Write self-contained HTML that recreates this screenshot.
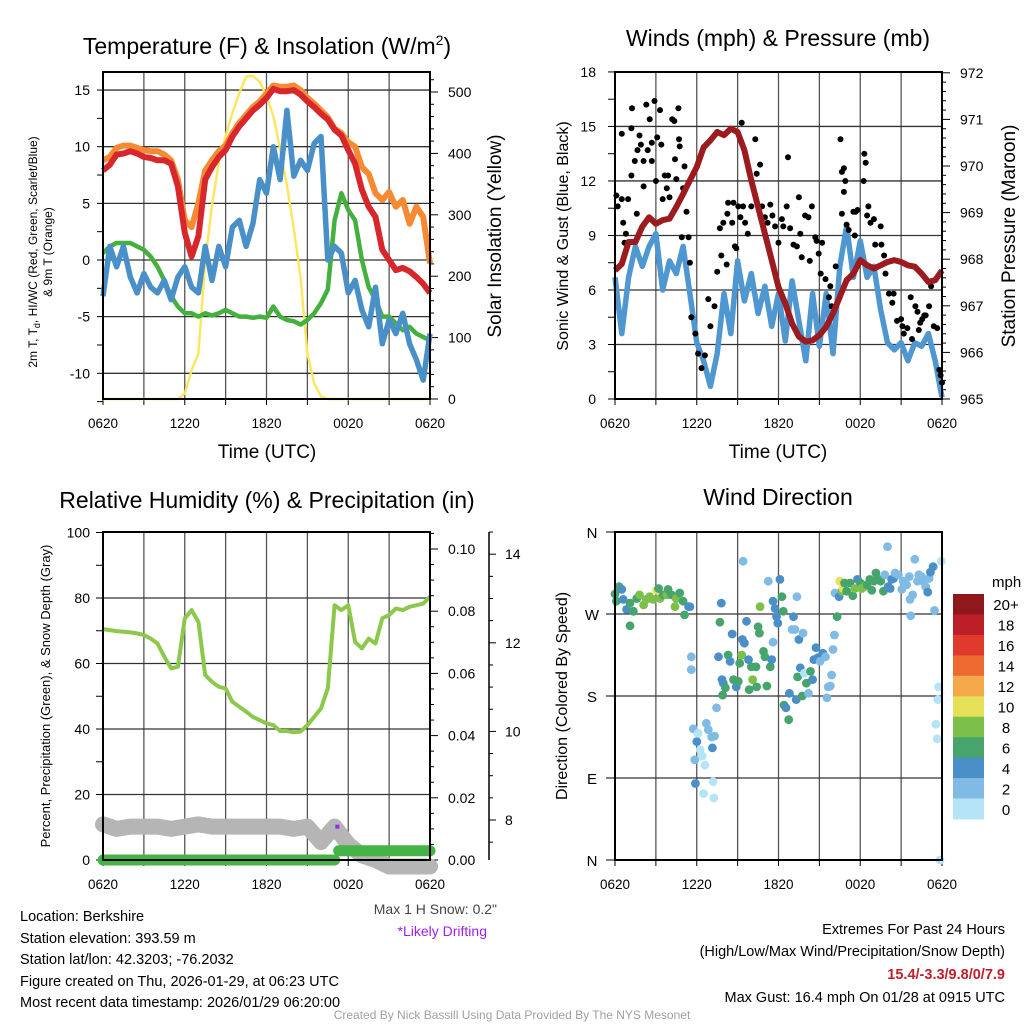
<!DOCTYPE html>
<html><head><meta charset="utf-8"><style>
html,body{margin:0;padding:0;background:#fff;}
svg{display:block;font-family:"Liberation Sans",Arial,sans-serif;}
</style></head><body>
<svg id="fig" width="1024" height="1024" viewBox="0 0 1024 1024" xmlns="http://www.w3.org/2000/svg">
<rect x="0" y="0" width="1024" height="1024" fill="#fff"/>
<text x="267" y="54" font-size="23" text-anchor="middle">Temperature (F) &amp; Insolation (W/m<tspan dy="-9" font-size="14">2</tspan><tspan dy="9">)</tspan></text>
<text x="778" y="46" font-size="23" text-anchor="middle">Winds (mph) &amp; Pressure (mb)</text>
<text x="267" y="508" font-size="23" text-anchor="middle">Relative Humidity (%) &amp; Precipitation (in)</text>
<text x="778" y="505" font-size="23" text-anchor="middle">Wind Direction</text>

<text transform="translate(37,252) rotate(-90)" font-size="12" text-anchor="middle">2m T, T<tspan dy="3" font-size="9">d</tspan><tspan dy="-3">, HI/WC (Red, Green, Scarlet/Blue)</tspan></text>
<text transform="translate(52,252) rotate(-90)" font-size="12" text-anchor="middle">&amp; 9m T (Orange)</text>
<text transform="translate(501,236) rotate(-90)" font-size="19" text-anchor="middle">Solar Insolation (Yellow)</text>
<text x="267" y="458" font-size="19" text-anchor="middle">Time (UTC)</text>
<text transform="translate(568,236) rotate(-90)" font-size="16" text-anchor="middle">Sonic Wind &amp; Gust (Blue, Black)</text>
<text transform="translate(1015,236) rotate(-90)" font-size="19" text-anchor="middle">Station Pressure (Maroon)</text>
<text x="778" y="458" font-size="19" text-anchor="middle">Time (UTC)</text>
<text transform="translate(50,696) rotate(-90)" font-size="13" text-anchor="middle">Percent, Precipitation (Green), &amp; Snow Depth (Gray)</text>
<text transform="translate(567,696) rotate(-90)" font-size="16" text-anchor="middle">Direction (Colored By Speed)</text>

<g id="plots"></g>

<text x="497" y="914" font-size="14" fill="#444" text-anchor="end">Max 1 H Snow: 0.2"</text>
<text x="487" y="936" font-size="14" fill="#a020f0" text-anchor="end">*Likely Drifting</text>
<g font-size="14.5">
<text x="20" y="921">Location: Berkshire</text>
<text x="20" y="943">Station elevation: 393.59 m</text>
<text x="20" y="964">Station lat/lon: 42.3203; -76.2032</text>
<text x="20" y="986">Figure created on Thu, 2026-01-29, at 06:23 UTC</text>
<text x="20" y="1007">Most recent data timestamp: 2026/01/29 06:20:00</text>
</g>
<g font-size="14.5" text-anchor="end">
<text x="1005" y="934">Extremes For Past 24 Hours</text>
<text x="1005" y="956">(High/Low/Max Wind/Precipitation/Snow Depth)</text>
<text x="1005" y="979" fill="#c0202a" font-weight="bold">15.4/-3.3/9.8/0/7.9</text>
<text x="1005" y="1002">Max Gust: 16.4 mph On 01/28 at 0915 UTC</text>
</g>
<text x="512" y="1019" font-size="12" fill="#a0a0a0" text-anchor="middle">Created By Nick Bassill Using Data Provided By The NYS Mesonet</text>
</svg>
<script>
// ---- data (half-hourly, 0620 UTC to 0620 UTC) ----
const xTickLabels = ["0620","1220","1820","0020","0620"];
const tempRed = [7.9,8.4,9.3,9.4,9.6,9.4,9.1,9.0,8.8,8.8,8.5,6.5,2.4,0.3,2.1,7.1,8.2,9.1,9.7,10.9,11.8,12.5,13.2,13.7,14.3,15.1,14.9,14.9,15.0,14.6,14.0,13.5,12.9,12.4,11.5,11.0,9.7,8.5,6.2,4.7,3.8,0.9,0.0,-0.9,-0.7,-1.0,-1.5,-2.1,-2.9];
const tempOrange = [8.8,9.1,9.9,10.1,10.1,9.9,9.7,9.6,9.6,9.3,8.8,7.1,3.5,2.9,5.0,7.9,8.8,9.6,10.1,11.2,12.1,12.8,13.5,14.0,14.7,15.4,15.3,15.3,15.4,15.0,14.3,13.8,13.2,12.6,11.6,11.2,10.4,10.0,8.2,7.6,5.9,5.3,6.0,4.7,5.3,3.2,4.7,3.8,-0.3];
const tempGreen = [0.6,1.2,1.5,1.5,1.5,1.2,0.9,0.3,-0.6,-1.8,-3.2,-4.1,-4.7,-4.7,-5.0,-4.7,-4.9,-4.7,-4.4,-4.7,-5.0,-5.0,-5.1,-5.0,-5.1,-4.1,-5.0,-5.3,-5.4,-5.7,-5.3,-4.7,-3.8,-2.6,3.5,5.9,4.4,3.5,0.0,-2.4,-3.5,-5.0,-5.0,-5.6,-6.2,-5.9,-6.5,-6.8,-7.1];
const tempBlue = [-3.2,1.2,-0.6,1.2,-1.5,-2.9,-1.2,-2.4,-2.9,-1.8,-3.5,-1.5,-0.6,-2.4,-2.9,1.2,-1.8,1.2,-0.6,2.9,3.5,1.2,3.2,7.1,5.9,10.0,7.1,13.2,7.4,8.8,7.9,10.3,10.9,0.0,1.2,0.6,-2.9,-1.8,-4.4,-5.9,-2.4,-7.4,-5.3,-6.5,-4.7,-7.4,-8.8,-10.6,-6.5];
const solar = [0,0,0,0,0,0,0,0,0,0,0,0,9,47,74,224,316,385,428,466,498,525,526,517,493,461,407,348,278,197,74,25,4,0,0,0,0,0,0,0,0,0,0,0,0,0,0,0,0];
const pressure = [967.76,967.9,968.37,968.37,968.7,968.9,968.76,968.84,968.87,969.12,969.4,969.69,969.98,970.4,970.55,970.73,970.66,970.8,970.73,970.34,969.69,969.12,968.55,967.98,967.4,967.05,966.62,966.34,966.23,966.26,966.37,966.55,966.84,967.19,967.55,967.69,967.98,967.87,967.8,967.87,967.94,967.98,967.94,967.87,967.84,967.69,967.51,967.55,967.76];
const windSpeed = [6.7,3.6,6.7,8.4,7.3,8.4,9.1,6.0,7.6,6.9,8.4,5.8,3.1,2.1,0.7,2.5,5.8,3.6,7.6,5.4,6.9,4.7,6.2,4.0,5.8,3.2,6.5,4.3,2.1,5.8,2.9,5.8,2.5,7.3,9.5,6.7,8.7,6.7,7.3,4.9,3.1,2.7,3.1,2.1,3.1,2.9,3.6,2.1,0.1];
const gustHour = [0.1,0.2,0.5,0.6,0.5,0.8,0.7,0.96,1.2,1.25,1.2,1.45,1.6,1.65,1.8,1.9,2.1,2.1,2.3,2.4,2.55,2.7,2.7,2.9,3.0,3.1,3.3,3.4,3.5,3.65,3.8,3.9,4.0,4.2,4.35,4.4,4.5,4.65,4.7,4.75,4.9,5.0,5.1,5.25,5.4,5.5,5.6,5.9,6.1,6.35,6.6,6.85,7.0,7.3,7.5,7.7,7.8,7.95,8.2,8.25,8.3,8.6,8.8,8.7,8.9,9.05,9.2,9.3,9.4,9.55,9.75,10.0,10.3,10.4,10.65,10.8,11.0,11.2,11.4,11.55,11.75,12.0,12.25,12.35,12.6,12.7,12.85,13.1,13.35,13.5,13.6,13.7,13.95,14.2,14.3,14.45,14.7,14.8,14.95,15.1,15.2,15.45,15.7,15.8,15.9,16.2,16.55,16.65,16.8,16.9,16.8,16.65,17.0,17.15,17.5,17.65,17.8,17.6,18.25,18.3,18.4,18.5,18.6,18.75,19.0,19.1,19.5,19.55,19.75,19.85,20.1,20.35,20.45,20.7,21.0,21.1,21.2,21.45,21.7,21.8,22.05,22.2,22.3,22.4,22.55,22.7,22.8,23.05,23.2,23.4,23.65,23.8,23.9,24.0];
const gustSpeed = [11.2,10.6,11.0,9.7,14.6,9.1,8.6,11.0,12.3,16.0,14.9,13.1,10.2,13.7,14.5,14.0,11.7,13.1,16.2,13.7,15.4,14.1,13.1,16.4,12.0,14.4,15.9,14.0,11.0,12.3,11.6,12.3,11.1,15.4,15.3,13.2,12.1,16.0,14.3,13.9,8.9,11.6,12.8,10.3,8.9,7.5,4.5,3.6,2.5,1.7,2.4,5.5,4.0,5.1,7.0,9.4,7.9,9.7,7.4,10.2,10.8,9.7,8.4,10.8,8.3,10.6,10.0,15.2,10.6,9.7,9.1,10.6,14.3,12.4,12.9,10.6,10.0,9.7,10.7,10.1,9.5,8.6,9.9,9.5,10.6,13.3,9.4,8.5,8.4,11.1,9.1,7.8,10.1,10.0,7.6,10.6,8.9,8.7,8.0,6.9,8.6,6.6,5.6,6.2,5.1,7.3,14.3,12.5,12.7,12.0,11.4,10.2,9.6,9.3,10.3,10.3,10.4,9.0,12.0,13.5,13.0,10.1,10.6,9.7,9.9,8.5,9.5,8.5,7.9,6.9,5.8,5.3,5.8,4.3,4.4,4.0,3.6,3.9,5.6,3.3,5.1,4.8,3.8,4.2,4.4,4.6,4.6,5.1,6.2,4.0,3.9,1.6,1.3,0.9];
const humidity = [70.5,70.2,69.9,69.7,69.5,69.2,68.7,67.6,66.1,62.1,58.5,59.0,73.8,76.3,72.7,56.5,54.4,52.9,52.4,48.3,46.8,45.3,43.7,42.7,41.7,41.2,39.4,39.4,39.0,39.2,41.2,43.7,46.3,52.4,77.8,76.3,77.8,66.6,64.6,67.6,66.1,73.8,74.8,76.8,76.3,77.3,77.8,78.3,80.4];
const snowDepth = [7.9,7.8,7.85,7.85,7.85,7.8,7.85,7.9,7.85,7.85,7.85,7.85,7.85,7.85,7.8,7.85,7.5,7.85,7.45,7.2,7.1,6.95,6.95,6.95,6.95];
const precip = [0,0,0,0,0,0,0,0,0,0,0,0,0,0,0,0,0,0,0.003,0.003,0.003,0.003,0.003,0.003,0.003];
const driftHour = [17.2];
const driftDepth = [7.85];
const dirHour = [0.0,0.1,0.3,0.5,0.6,0.85,1.1,1.1,1.35,1.6,1.8,2.1,2.3,2.55,2.8,3.05,3.2,3.3,3.55,3.8,3.9,4.15,4.4,4.5,4.75,5.0,5.1,5.4,5.5,5.6,5.6,5.75,6.0,6.1,6.25,6.4,5.85,6.6,6.7,6.85,7.1,7.3,7.15,5.9,6.5,7.2,7.25,7.45,7.7,7.8,7.6,7.85,7.95,7.9,8.1,8.3,8.45,8.6,8.7,8.9,9.05,9.15,9.3,9.4,9.35,9.5,9.65,9.8,9.85,10.0,10.1,10.35,10.4,10.5,10.6,10.65,10.9,11.0,11.15,11.25,11.4,11.5,11.6,11.6,11.75,11.85,11.95,12.1,12.25,12.35,12.4,12.55,12.75,12.8,13.0,13.1,13.2,13.35,13.5,13.3,13.4,13.6,13.75,13.8,13.9,14.05,14.2,14.35,14.5,14.6,14.75,14.9,15.05,15.25,15.45,15.55,15.65,15.8,15.9,16.0,16.1,16.15,16.3,16.45,16.5,16.65,16.75,16.85,17.0,17.25,17.45,17.6,17.8,18.0,18.1,18.3,18.5,18.7,18.85,19.0,19.15,19.35,19.5,19.7,19.8,20.0,20.05,20.2,20.3,20.45,20.55,20.8,21.05,21.15,21.4,21.6,21.65,21.7,21.85,22.0,22.2,22.3,22.5,22.6,22.8,22.95,23.05,23.15,23.35,23.45,23.75,23.7,23.55,23.65,23.95,23.85];
const dirDeg = [292,284,300,297,286,275,282,257,273,287,291,280,286,289,286,296,298,287,291,291,297,291,278,287,293,284,269,278,278,223,209,144,130,139,121,114,110,104,150,143,135,136,123,84,73,86,68,167,261,282,223,198,194,181,189,225,218,248,198,190,196,216,225,328,242,238,262,220,187,212,198,212,190,256,249,278,229,223,191,306,212,220,239,284,276,267,260,308,289,273,170,167,154,183,253,267,253,289,242,176,201,211,180,249,205,194,183,207,198,220,233,222,218,227,223,178,190,191,203,231,247,293,267,289,306,295,298,304,295,304,290,298,308,304,298,300,302,308,296,306,315,308,306,295,313,344,300,298,308,309,315,313,297,306,302,311,286,268,291,330,306,313,311,306,300,294,309,316,322,274,190,176,149,133,328,0];
const dirSpeed = [7,7,7,5,5,5,7,7,7,7,9,9,9,9,9,11,7,9,7,9,7,7,9,9,7,7,7,5,5,3,3,3,5,1,1,1,3,1,3,3,3,3,5,5,1,1,1,3,7,5,5,5,5,7,7,7,5,5,7,5,7,7,9,3,5,5,5,5,7,7,9,7,7,7,7,9,7,7,7,3,7,5,3,5,5,5,5,5,7,7,7,5,7,5,3,5,3,3,5,5,7,5,7,3,1,7,3,7,5,5,5,5,3,5,3,3,3,3,3,3,3,3,7,5,11,9,11,7,7,7,7,9,5,7,9,9,7,7,7,7,7,7,7,7,3,3,5,5,5,5,3,3,3,3,3,3,3,3,3,3,3,3,3,3,3,5,3,5,5,3,1,1,1,1,1,1,1];
const speedBins = [0,2,4,6,8,10,12,14,16,18,20];
const speedBinLabels = ["0","2","4","6","8","10","12","14","16","18","20+"];
const speedColors = ["#b5e4f7","#7fbbe4","#4a8fc7","#47a46c","#7cc04a","#e6df58","#f5a84a","#ef6a30","#df3a2b","#bd1f28","#8e181b"];

// ---- scales ----
const NS="http://www.w3.org/2000/svg";
const root=document.getElementById('plots');
function mk(tag,attrs,parent){const e=document.createElementNS(NS,tag);for(const k in attrs)e.setAttribute(k,attrs[k]);(parent||root).appendChild(e);return e;}
const xA=h=>103+h*(327/24);
const xB=h=>615+h*(327/24);
const yTemp=v=>260-v*11.33;
const ySolar=w=>399-w*0.614;
const yWind=v=>399-v*18.17;
const yPres=p=>399-(p-965)*46.6;
const yRH=v=>860-v*3.275;
const yPrecip=v=>860-v*3110;
const ySnow=v=>820-(v-8)*44.3;
const yDir=d=>860-d*(328/360);
const half=i=>i*0.5;

function pathFrom(arr,xf,tf,yf){return arr.map((v,i)=>(i?'L':'M')+xf(tf(i)).toFixed(1)+','+yf(v).toFixed(1)).join(' ');}
function txt(x,y,s,size,anchor,name){const t=mk('text',{x:x,y:y,'font-size':size,'text-anchor':anchor||'middle'});t.textContent=s;return t;}
function line(x1,y1,x2,y2,stroke,w,name){const l=mk('line',{x1:x1,y1:y1,x2:x2,y2:y2,stroke:stroke,'stroke-width':w});return l;}

function frame(x0,y0,x1,y1,hGrid,name){
  for(let h=3;h<24;h+=3){const x=x0+h*(x1-x0)/24;line(x,y0,x,y1,'#555',1.3,name+'-vgrid');}
  hGrid.forEach(y=>line(x0,y,x1,y,'#333',1.3,name+'-hgrid'));
  for(let h=0;h<=24;h+=3){const x=x0+h*(x1-x0)/24;line(x,y1,x,y1+6,'#000',1,name+'-xtick');}
  xTickLabels.forEach((s,i)=>txt(x0+i*6*(x1-x0)/24,y1+29,s,13.5,'middle',name+'-xtick-label'));
}
function box(x0,y0,x1,y1,name){const r=mk('rect',{x:x0,y:y0,width:x1-x0,height:y1-y0,fill:'none',stroke:'#000','stroke-width':2});}

// ===== Panel 1: temperature =====
(function(){
  const hg=[];for(let v=-10;v<=15;v+=5)hg.push(yTemp(v));
  frame(103,72,430,399,hg,'temp');
  for(let v=-12.5;v<=15;v+=2.5){line(97,yTemp(v),103,yTemp(v),'#000',1,'temp-ytick');}
  for(let v=-10;v<=15;v+=5)txt(90,yTemp(v)+5,String(v),14,'end','temp-ytick-label');
  for(let w=0;w<=520;w+=20){line(430,ySolar(w),w%100===0?438:434,ySolar(w),'#000',1,'solar-ytick');}
  for(let w=0;w<=500;w+=100)txt(448,ySolar(w)+5,String(w),14,'start','solar-ytick-label');
  const s=mk('path',{d:pathFrom(solar,xA,half,ySolar),fill:'none',stroke:'#fde65a','stroke-width':2.4,'stroke-linejoin':'round'});
  
  const o=mk('path',{d:pathFrom(tempOrange,xA,half,yTemp),fill:'none',stroke:'#f58a33','stroke-width':6,'stroke-linejoin':'round'});
  
  const r=mk('path',{d:pathFrom(tempRed,xA,half,yTemp),fill:'none',stroke:'#d7262c','stroke-width':6,'stroke-linejoin':'round'});
  
  const gr=mk('path',{d:pathFrom(tempGreen,xA,half,yTemp),fill:'none',stroke:'#44b03e','stroke-width':4.5,'stroke-linejoin':'round'});
  
  const b=mk('path',{d:pathFrom(tempBlue,xA,half,yTemp),fill:'none',stroke:'#4a90c8','stroke-width':5.5,'stroke-linejoin':'round'});
  
  box(103,72,430,399,'temp-plot-frame');
})();

// ===== Panel 2: winds =====
(function(){
  const hg=[];for(let v=3;v<=15;v+=3)hg.push(yWind(v));
  frame(615,72,942,399,hg,'wind');
  for(let v=0;v<=18;v+=1.5){line(608,yWind(v),615,yWind(v),'#000',1,'wind-ytick');}
  for(let v=0;v<=18;v+=3)txt(596,yWind(v)+5,String(v),14,'end','wind-ytick-label');
  for(let p=965;p<=972.001;p+=0.2){const maj=Math.abs(p-Math.round(p))<0.01;line(942,yPres(p),maj?950:946,yPres(p),'#000',1,'pressure-ytick');}
  for(let p=965;p<=972;p++)txt(960,yPres(p)+5,String(p),14,'start','pressure-ytick-label');
  const b=mk('path',{d:pathFrom(windSpeed,xB,half,yWind),fill:'none',stroke:'#4f97d1','stroke-width':5.5,'stroke-linejoin':'round'});
  
  gustHour.forEach((h,i)=>{const c=mk('circle',{cx:xB(h).toFixed(1),cy:yWind(gustSpeed[i]).toFixed(1),r:3,fill:'#000'});
    
    });
  const p=mk('path',{d:pathFrom(pressure,xB,half,yPres),fill:'none',stroke:'#9b1b1e','stroke-width':6,'stroke-linejoin':'round'});
  
  box(615,72,942,399,'wind-plot-frame');
})();

// ===== Panel 3: humidity/precip/snow =====
(function(){
  const hg=[];for(let v=20;v<=80;v+=20)hg.push(yRH(v));
  frame(103,532,430,860,hg,'rh');
  for(let v=0;v<=100;v+=10){line(96,yRH(v),103,yRH(v),'#000',1,'rh-ytick');}
  for(let v=0;v<=100;v+=20)txt(90,yRH(v)+5,String(v),14,'end','rh-ytick-label');
  for(let v=0;v<=0.1051;v+=0.005){const maj=Math.round(v*1000)%20===0;line(430,yPrecip(v),maj?438:434,yPrecip(v),'#000',1,'precip-ytick');}
  for(let k=0;k<=5;k++)txt(448,yPrecip(k*0.02)+5,(k*0.02).toFixed(2),14,'start','precip-ytick-label');
  line(489,532,489,860,'#000',1.5,'snow-axis-line');
  for(let v=7.5;v<=14.5;v+=0.5){const maj=v%2===0;line(489,ySnow(v),maj?496:493,ySnow(v),'#000',1,'snow-ytick');}
  for(let v=8;v<=14;v+=2)txt(505,ySnow(v)+5,String(v),14,'start','snow-ytick-label');
  const sn=mk('path',{d:pathFrom(snowDepth,xA,i=>i,ySnow),fill:'none',stroke:'#b5b5b5','stroke-width':16,'stroke-linejoin':'round','stroke-linecap':'round'});
  
  let d='';precip.forEach((v,i)=>{const x=xA(i).toFixed(1),y=yPrecip(v).toFixed(1);if(i===0)d+='M'+x+','+y;else{if(v!==precip[i-1]){d+=' M'+(xA(i-0.7)).toFixed(1)+','+y;}else d+=' L'+x+','+y;}});
  const pr=mk('path',{d:d,fill:'none',stroke:'#45b447','stroke-width':11,'stroke-linecap':'round'});
  
  driftHour.forEach((h,i)=>{const r=mk('rect',{x:xA(h)-2,y:ySnow(driftDepth[i])-2,width:4,height:4,fill:'#a020f0'});
    
    });
  const rh=mk('path',{d:pathFrom(humidity,xA,half,yRH),fill:'none',stroke:'#8cc84b','stroke-width':4,'stroke-linejoin':'round'});
  
  box(103,532,430,860,'rh-plot-frame');
})();

// ===== Panel 4: wind direction =====
(function(){
  const dirs=[0,90,180,270,360],labs=['N','E','S','W','N'];
  frame(615,532,942,860,[yDir(90),yDir(180),yDir(270)],'dir');
  dirs.forEach((d,i)=>{line(606,yDir(d),615,yDir(d),'#000',1,'dir-ytick');txt(592,yDir(d)+6,labs[i],15,'middle','dir-ytick-label');});
  function colorFor(s){let k=0;for(let j=0;j<speedBins.length;j++)if(s>=speedBins[j])k=j;return speedColors[k];}
  dirHour.forEach((h,i)=>{const c=mk('circle',{cx:xB(h).toFixed(1),cy:yDir(dirDeg[i]).toFixed(1),r:4.4,fill:colorFor(dirSpeed[i])});
    
    });
  box(615,532,942,860,'dir-plot-frame');
  txt(992,587,'mph',15,'start','colorbar-title');
  const n=speedColors.length,top=594,bh=225/n;
  for(let j=0;j<n;j++){const k=n-1-j;const r=mk('rect',{x:953,y:(top+j*bh).toFixed(1),width:31,height:(bh+0.5).toFixed(1),fill:speedColors[k]});
    
    
    txt(1006,top+j*bh+bh/2+6,speedBinLabels[k],15,'middle','colorbar-label');}
})();
</script>
</body></html>
